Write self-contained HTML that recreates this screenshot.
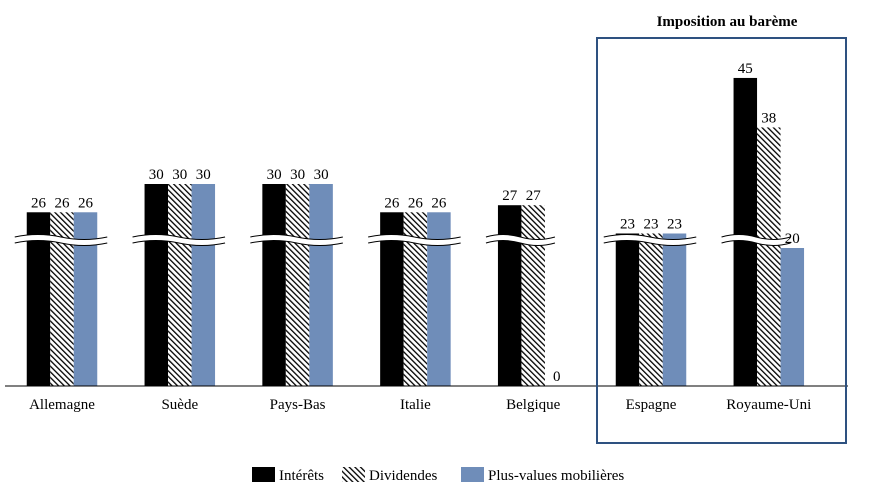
<!DOCTYPE html>
<html><head><meta charset="utf-8"><style>
body{margin:0;background:#fff;}
svg{display:block;font-family:"Liberation Serif",serif;}
</style></head><body>
<svg width="871" height="504">
<defs>
<pattern id="hatch" patternUnits="userSpaceOnUse" width="4" height="4" patternTransform="rotate(-45)">
<rect width="4" height="4" fill="#fff"/><rect x="0" y="0" width="1.3" height="4" fill="#000"/>
</pattern>
</defs>
<g id="plot"></g>
<rect x="597" y="38" width="249" height="405" fill="none" stroke="#2e5180" stroke-width="2"/>
<text x="727" y="26" text-anchor="middle" font-size="15" font-weight="bold">Imposition au barème</text>
<g font-size="15">
<rect x="252" y="467" width="23" height="15" fill="#000"/>
<text x="279" y="480">Intérêts</text>
<rect x="342" y="467" width="23" height="15" fill="url(#hatch)"/>
<text x="369" y="480">Dividendes</text>
<rect x="461" y="467" width="23" height="15" fill="#6f8db9"/>
<text x="488" y="480">Plus-values mobilières</text>
</g>
</svg>
<script>
const categories=["Allemagne","Suède","Pays-Bas","Italie","Belgique","Espagne","Royaume-Uni"];
const interets=[26,30,30,26,27,23,45];
const dividendes=[26,30,30,26,27,23,38];
const plusValues=[26,30,30,26,0,23,20];
const seriesList=[interets,dividendes,plusValues];
const fills=["#000","url(#hatch)","#6f8db9"];
const sNames=["interets","dividendes","plus-values"];
const NS="http://www.w3.org/2000/svg";
const g=document.getElementById("plot");
const base=386, breakY=240, breakVal=22;
function yScale(v){
  if(v<=0) return base;
  if(v>breakVal) return 184-(v-30)*7.07;
  return base-v*6.9;
}
function xCenter(i){ return 62+i*117.8; }
const bw=23.5;
function mk(t,a){const e=document.createElementNS(NS,t);for(const k in a)e.setAttribute(k,a[k]);g.appendChild(e);return e;}
const labels=[];
categories.forEach((c,i)=>{
  const cx=xCenter(i);
  let lastAbove=-1;
  seriesList.forEach((s,j)=>{
    const v=s[i];const x=cx-1.5*bw+j*bw;const y=yScale(v);
    if(v>0){
      const r=mk("rect",{x:x,y:y,width:bw,height:base-y,fill:fills[j]});
      
      
    }
    if(v>breakVal) lastAbove=j;
    labels.push([x+bw/2,y-5,v,sNames[j]+'-'+i]);
  });
  if(lastAbove>=0){
    const x0=cx-1.5*bw-12,x1=cx-1.5*bw+(lastAbove+1)*bw+10,w=x1-x0;
    const d1=`M${x0},${breakY-3} q${w/4},-5 ${w/2},0 t${w/2},0`;
    const band=mk("path",{d:`${d1} l0,6 q${-w/4},5 ${-w/2},0 t${-w/2},0 z`,fill:"#fff"});
    
    
    mk("path",{d:d1,fill:"none",stroke:"#000","stroke-width":"1"});
    mk("path",{d:`M${x0},${breakY+3} q${w/4},-5 ${w/2},0 t${w/2},0`,fill:"none",stroke:"#000","stroke-width":"1"});
  }
  const l=mk("text",{x:cx,y:409,"text-anchor":"middle","font-size":"15"});
  l.textContent=c;
  
  
});
labels.forEach(([x,y,v,n])=>{
  const t=mk("text",{x:x,y:y,"text-anchor":"middle","font-size":"15"});
  t.textContent=v;
  
  
});
const ax=mk("line",{x1:5,x2:848,y1:base,y2:base,stroke:"#000","stroke-width":"1"});


</script>
</body></html>
